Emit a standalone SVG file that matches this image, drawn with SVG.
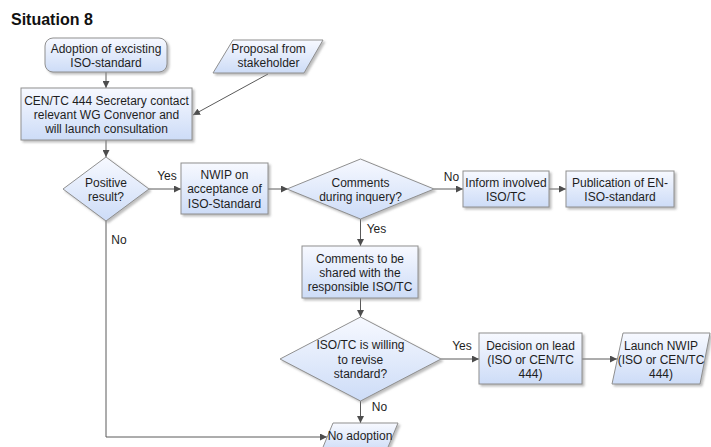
<svg xmlns="http://www.w3.org/2000/svg" width="711" height="447" viewBox="0 0 711 447">
<defs>
<linearGradient id="g" x1="0" y1="0" x2="0" y2="1">
<stop offset="0" stop-color="#f7f9ff"/>
<stop offset="1" stop-color="#cddcf7"/>
</linearGradient>
<filter id="sh" x="-10%" y="-10%" width="130%" height="140%">
<feDropShadow dx="2" dy="2" stdDeviation="1" flood-color="#888" flood-opacity="0.55"/>
</filter>
<marker id="ah" viewBox="0 0 10 10" refX="10" refY="5" markerWidth="7" markerHeight="7" markerUnits="userSpaceOnUse" orient="auto">
<path d="M0,0 L10,5 L0,10 z" fill="#4d4d4d"/>
</marker>
</defs>
<style>
.n{fill:url(#g);stroke:#8f8f8f;stroke-width:1;filter:url(#sh)}
.t{font-family:"Liberation Sans",Arial,sans-serif;font-size:12px;fill:#1e1e1e;text-anchor:middle}
.l{font-family:"Liberation Sans",Arial,sans-serif;font-size:12px;fill:#1e1e1e;text-anchor:middle}
.c{fill:none;stroke:#5a5a5a;stroke-width:1;marker-end:url(#ah)}
</style>
<rect width="711" height="447" fill="#fff"/>
<text x="11" y="25" font-family="Liberation Sans,Arial,sans-serif" font-size="16" font-weight="bold" fill="#111">Situation 8</text>

<g id="connectors">
<path class="c" d="M106,72 V88"/>
<path class="c" d="M268,74 L193,115"/>
<path class="c" d="M106,140 V157"/>
<path class="c" d="M149,189 H181"/>
<path class="c" d="M268,189 H288"/>
<path class="c" d="M434,189 H463"/>
<path class="c" d="M549,189 H566"/>
<path class="c" d="M360.5,219 V246"/>
<path class="c" d="M360.5,298 V317"/>
<path class="c" d="M441,359 H479"/>
<path class="c" d="M582,359 H617"/>
<path class="c" d="M360.5,401 V423"/>
<path class="c" d="M106,221 V437 H327"/>
<text class="l" x="167" y="180">Yes</text>
<text class="l" x="119" y="244">No</text>
<text class="l" x="451.5" y="181">No</text>
<text class="l" x="376.5" y="233">Yes</text>
<text class="l" x="462" y="350">Yes</text>
<text class="l" x="379.5" y="411">No</text>
</g>

<g id="n1">
<rect class="n" x="45" y="38" width="122" height="34" rx="8"/>
<text class="t" x="106" y="53">Adoption of excisting</text>
<text class="t" x="106" y="67">ISO-standard</text>
</g>
<g id="n2">
<polygon class="n" points="233,40 323,40 304,73 213,73"/>
<text class="t" x="268.5" y="53">Proposal from</text>
<text class="t" x="268.5" y="67">stakeholder</text>
</g>
<g id="n3">
<rect class="n" x="21" y="88" width="171" height="52"/>
<text class="t" x="106.5" y="105">CEN/TC 444 Secretary contact</text>
<text class="t" x="106.5" y="119">relevant WG Convenor and</text>
<text class="t" x="106.5" y="133">will launch consultation</text>
</g>
<g id="n4">
<polygon class="n" points="106,157 149,189 106,221 63,189"/>
<text class="t" x="106" y="187">Positive</text>
<text class="t" x="106" y="201">result?</text>
</g>
<g id="n5">
<rect class="n" x="181" y="163" width="87" height="51"/>
<text class="t" x="224.5" y="179">NWIP on</text>
<text class="t" x="224.5" y="193">acceptance of</text>
<text class="t" x="224.5" y="207.5">ISO-Standard</text>
</g>
<g id="n6">
<polygon class="n" points="360.5,159 434,189 360.5,219 287,189"/>
<text class="t" x="360.5" y="187">Comments</text>
<text class="t" x="360.5" y="201">during inquery?</text>
</g>
<g id="n7">
<rect class="n" x="463" y="171" width="86" height="36"/>
<text class="t" x="506" y="187">Inform involved</text>
<text class="t" x="506" y="201">ISO/TC</text>
</g>
<g id="n8">
<rect class="n" x="566" y="171" width="108" height="36"/>
<text class="t" x="620" y="187">Publication of EN-</text>
<text class="t" x="620" y="201">ISO-standard</text>
</g>
<g id="n9">
<rect class="n" x="302" y="246" width="116" height="52"/>
<text class="t" x="360" y="263">Comments to be</text>
<text class="t" x="360" y="277">shared with the</text>
<text class="t" x="360" y="291">responsible ISO/TC</text>
</g>
<g id="n10">
<polygon class="n" points="360.5,317 441,359 360.5,401 280,359"/>
<text class="t" x="360.5" y="349">ISO/TC is willing</text>
<text class="t" x="360.5" y="364">to revise</text>
<text class="t" x="360.5" y="378">standard?</text>
</g>
<g id="n11">
<rect class="n" x="479" y="333" width="103" height="51"/>
<text class="t" x="530.5" y="349.5">Decision on lead</text>
<text class="t" x="530.5" y="363.5">(ISO or CEN/TC</text>
<text class="t" x="530.5" y="377.5">444)</text>
</g>
<g id="n12">
<polygon class="n" points="623,333 710,333 700,384 612,384"/>
<text class="t" x="661" y="349.5">Launch NWIP</text>
<text class="t" x="661" y="363.5">(ISO or CEN/TC</text>
<text class="t" x="661" y="377.5">444)</text>
</g>
<g id="n13">
<polygon class="n" points="333,423 398,423 386,452 321,452"/>
<text class="t" x="360" y="440">No adoption</text>
</g>
</svg>
